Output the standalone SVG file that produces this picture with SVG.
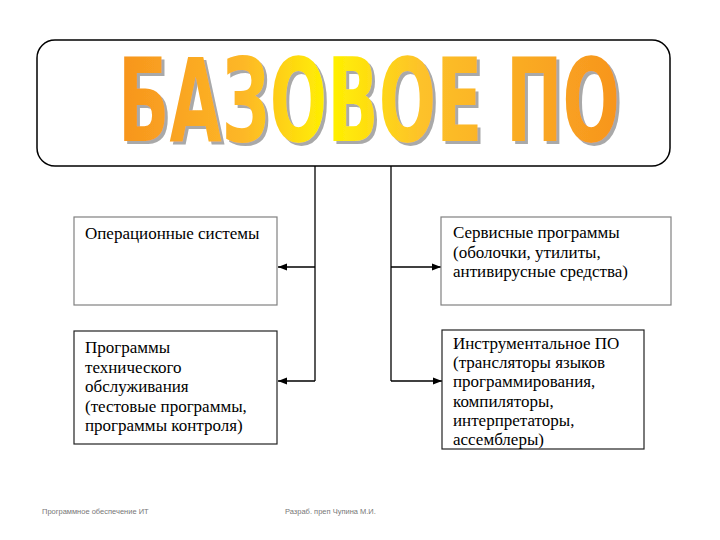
<svg xmlns="http://www.w3.org/2000/svg" width="720" height="540" viewBox="0 0 720 540">
<defs>
<linearGradient id="tg" x1="118" y1="0" x2="622" y2="0" gradientUnits="userSpaceOnUse">
<stop offset="0" stop-color="#F7941D"/>
<stop offset="0.25" stop-color="#FDB827"/>
<stop offset="0.42" stop-color="#FFF200"/>
<stop offset="0.6" stop-color="#FDC22A"/>
<stop offset="1" stop-color="#F7941D"/>
</linearGradient>
<filter id="sh" x="-10%" y="-25%" width="120%" height="150%">
<feOffset in="SourceAlpha" dx="3" dy="3" result="o"/>
<feFlood flood-color="#9a9a9a" flood-opacity="0.85"/>
<feComposite in2="o" operator="in" result="s"/>
<feMerge><feMergeNode in="s"/><feMergeNode in="SourceGraphic"/></feMerge>
</filter>
<marker id="ah" viewBox="0 0 10 10" refX="10" refY="5" markerWidth="9" markerHeight="9" markerUnits="userSpaceOnUse" orient="auto">
<path d="M0,1 L10,5 L0,9 z" fill="#000"/>
</marker>
<style>
.box{fill:#fff;stroke-width:1.2}
.lt{stroke:#808080}
.dk{stroke:#222}
.t{font-family:"Liberation Serif","Times New Roman",serif;font-size:17px;fill:#000}
.c{fill:none;stroke:#000;stroke-width:1.3}
.f{font-family:"Liberation Sans",Arial,sans-serif;font-size:7.5px;fill:#777}
.title{font-family:"Liberation Sans Narrow","DejaVu Sans Condensed","Liberation Sans",sans-serif;font-weight:bold;font-size:116px}
</style>
</defs>
<rect width="720" height="540" fill="#fff"/>
<g id="header">
<rect x="37" y="40" width="633" height="126" rx="18" ry="18" fill="#fff" stroke="#000" stroke-width="1.5"/>
<text class="title" x="118" y="141" textLength="502" lengthAdjust="spacingAndGlyphs" fill="url(#tg)" filter="url(#sh)">БАЗОВОЕ ПО</text>
</g>
<g id="connectors">
<path class="c" d="M315,166 V381"/>
<path class="c" d="M391,166 V381"/>
<path class="c" d="M315,267 H278" marker-end="url(#ah)"/>
<path class="c" d="M315,381 H278" marker-end="url(#ah)"/>
<path class="c" d="M391,267 H441" marker-end="url(#ah)"/>
<path class="c" d="M391,381 H442" marker-end="url(#ah)"/>
</g>
<g id="os">
<rect class="box lt" x="74" y="217" width="203" height="88"/>
<text class="t" x="85" y="239">Операционные системы</text>
</g>
<g id="maint">
<rect class="box dk" x="74" y="331" width="203" height="113"/>
<text class="t" x="85" y="353">Программы</text>
<text class="t" x="85" y="372.5">технического</text>
<text class="t" x="85" y="392">обслуживания</text>
<text class="t" x="85" y="411.5">(тестовые программы,</text>
<text class="t" x="85" y="431">программы контроля)</text>
</g>
<g id="service">
<rect class="box lt" x="441" y="217" width="230" height="88"/>
<text class="t" x="453" y="238">Сервисные программы</text>
<text class="t" x="453" y="257.5">(оболочки, утилиты,</text>
<text class="t" x="453" y="277">антивирусные средства)</text>
</g>
<g id="tools">
<rect class="box dk" x="442" y="330" width="202" height="119"/>
<text class="t" x="453" y="349">Инструментальное ПО</text>
<text class="t" x="453" y="368.2">(трансляторы языков</text>
<text class="t" x="453" y="387.4">программирования,</text>
<text class="t" x="453" y="406.6">компиляторы,</text>
<text class="t" x="453" y="425.8">интерпретаторы,</text>
<text class="t" x="453" y="445">ассемблеры)</text>
</g>
<g id="footer">
<text class="f" x="42" y="514">Программное обеспечение ИТ</text>
<text class="f" x="285" y="514">Разраб. преп Чупина М.И.</text>
</g>
</svg>
